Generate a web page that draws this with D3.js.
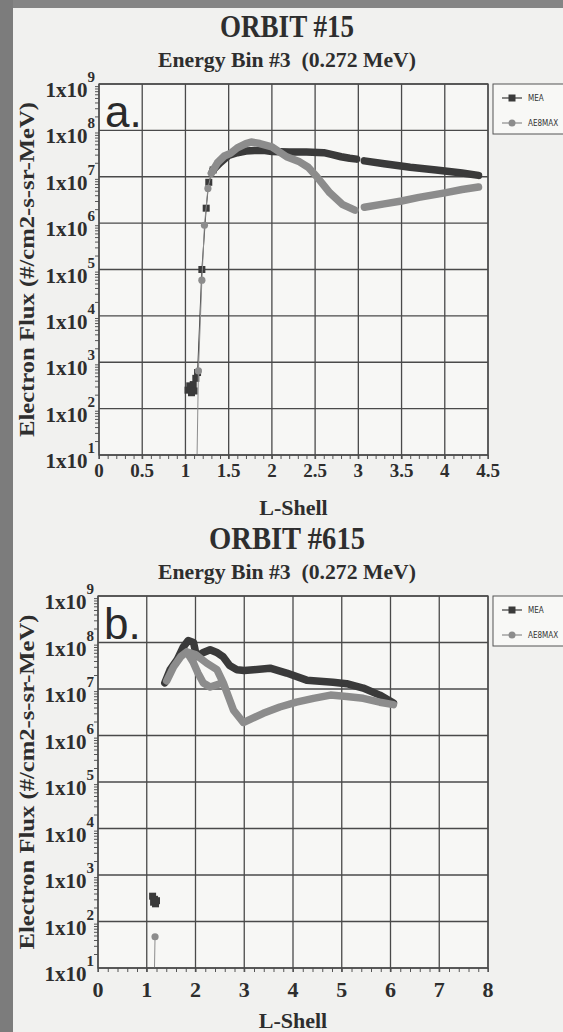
<!DOCTYPE html>
<head>
  <meta charset="utf-8">
  <title>MEA vs AE8MAX electron flux</title>
  <script src="https://d3js.org/d3.v7.min.js"></script>
  <style type="text/css">
  body { margin: 0; background: #f1f1ef; }
  .serif { font-family: "Liberation Serif", "DejaVu Serif", serif; font-weight: bold; fill: #2e2e2e; }
  .leg { font-family: "DejaVu Sans Condensed", "Liberation Sans", sans-serif; font-size: 8px; fill: #333; }
  </style>
</head>
<body>
  <script type="text/javascript">

    // Orbit #15, energy bin #3 (0.272 MeV): [L-shell, flux]
    var orbit15MeaLow = [[1.03, 250], [1.05, 310], [1.07, 220], [1.09, 330], [1.10, 240], [1.12, 450],
      [1.14, 600], [1.19, 1.0e5], [1.24, 2.1e6], [1.27, 7.6e6], [1.32, 1.4e7]];
    var orbit15MeaBand = [[1.32, 1.4e7], [1.40, 2.0e7], [1.50, 2.9e7], [1.60, 3.3e7], [1.70, 3.6e7],
      [1.80, 3.7e7], [1.90, 3.7e7], [2.00, 3.5e7], [2.20, 3.4e7], [2.40, 3.4e7], [2.60, 3.3e7],
      [2.70, 3.0e7], [2.80, 2.7e7], [2.90, 2.5e7], [2.98, 2.4e7], null,
      [3.07, 2.2e7], [3.30, 1.9e7], [3.60, 1.6e7], [3.90, 1.4e7], [4.20, 1.2e7], [4.39, 1.07e7]];
    var orbit15AeLow = [[1.13, 3], [1.15, 650], [1.19, 5.9e4], [1.22, 9.0e5], [1.26, 5.6e6], [1.30, 1.2e7]];
    var orbit15AeBand = [[1.30, 1.2e7], [1.37, 2.0e7], [1.45, 2.8e7], [1.52, 3.2e7], [1.60, 4.2e7],
      [1.70, 5.2e7], [1.76, 5.6e7], [1.86, 5.2e7], [2.00, 4.4e7], [2.17, 2.7e7], [2.32, 2.1e7],
      [2.42, 1.6e7], [2.52, 1.0e7], [2.67, 4.5e6], [2.82, 2.5e6], [2.96, 1.9e6], null,
      [3.07, 2.2e6], [3.30, 2.6e6], [3.50, 3.0e6], [3.70, 3.6e6], [4.00, 4.5e6], [4.20, 5.3e6], [4.39, 6.0e6]];

    // Orbit #615, energy bin #3 (0.272 MeV)
    var orbit615MeaLow = [[1.12, 350], [1.14, 260], [1.16, 300], [1.18, 240], [1.20, 280]];
    var orbit615MeaBand = [[1.37, 1.35e7], [1.48, 2.6e7], [1.62, 4.2e7], [1.75, 8.0e7], [1.85, 1.1e8],
      [1.96, 1.0e8], [2.02, 5.0e7], [2.15, 6.0e7], [2.30, 7.0e7], [2.45, 6.0e7], [2.57, 4.9e7],
      [2.70, 3.2e7], [2.85, 2.6e7], [3.00, 2.5e7], [3.19, 2.6e7], [3.53, 2.8e7], [3.87, 2.2e7],
      [4.28, 1.55e7], [4.82, 1.4e7], [5.10, 1.3e7], [5.44, 1.05e7], [5.78, 7.4e6], [6.06, 5.0e6]];
    var orbit615AeLow = [[1.15, 3], [1.17, 47]];
    var orbit615AeBand = [[1.41, 1.5e7], [1.55, 3.0e7], [1.70, 5.0e7], [1.82, 6.3e7], [2.00, 5.5e7],
      [2.23, 3.6e7], [2.44, 2.6e7], [2.57, 1.35e7], [2.78, 3.5e6], [2.98, 1.9e6], [3.39, 3.0e6],
      [3.73, 4.1e6], [4.07, 5.2e6], [4.42, 6.3e6], [4.77, 7.4e6], [5.10, 6.9e6], [5.44, 6.3e6],
      [5.78, 5.2e6], [6.06, 4.6e6], null,
      [1.82, 6.3e7], [1.95, 3.8e7], [2.05, 2.2e7], [2.16, 1.35e7], [2.30, 1.1e7], [2.50, 1.3e7]];

    // Axis ticks and labels
    var yDecades = [1, 2, 3, 4, 5, 6, 7, 8, 9];
    var seriesNames = ["MEA", "AE8MAX"];
    var yTitle = "Electron Flux (#/cm2-s-sr-MeV)";
    var xTitle = "L-Shell";
    var subTitle = "Energy Bin #3  (0.272 MeV)";

    var meaColor = "#3a3a3a", aeColor = "#8c8c8c", gridColor = "#4a4a4a";

    var svg = d3.select("body").append("svg")
      .attr("width", 563)
      .attr("height", 1032);

    // Scanned page frame
    svg.append("rect").attr("width", 563).attr("height", 1032).attr("fill", "#f1f1ef");
    svg.append("rect").attr("width", 563).attr("height", 8).attr("fill", "#858585");
    svg.append("rect").attr("width", 13).attr("height", 1032).attr("fill", "#7c7c7c");

    var panels = [
      {id: "a", title: "ORBIT #15", titleLen: 134, top: 84, bottom: 455, left: 99, right: 488,
       xMax: 4.5, xStep: 0.5, xMinor: 0.1, xFont: 19, xGap: 22, connect: true,
       mea: [orbit15MeaLow, orbit15MeaBand], ae: [orbit15AeLow, orbit15AeBand]},
      {id: "b", title: "ORBIT #615", titleLen: 156, top: 596, bottom: 968, left: 98, right: 488,
       xMax: 8, xStep: 1, xMinor: 0.2, xFont: 22, xGap: 29, connect: false,
       mea: [orbit615MeaLow, orbit615MeaBand], ae: [orbit615AeLow, orbit615AeBand]}
    ];

    panels.forEach(function(p) {
      var x = d3.scaleLinear().domain([0, p.xMax]).range([p.left, p.right]);
      var y = d3.scaleLog().domain([1e1, 1e9]).range([p.bottom, p.top]);
      var cx = 287;

      // Titles
      svg.append("text").attr("class", "serif")
        .attr("x", cx).attr("y", p.top - 47)
        .attr("text-anchor", "middle").attr("font-size", 32)
        .attr("textLength", p.titleLen).attr("lengthAdjust", "spacingAndGlyphs")
        .text(p.title);
      svg.append("text").attr("class", "serif")
        .attr("x", cx).attr("y", p.top - 17)
        .attr("text-anchor", "middle").attr("font-size", 22)
        .attr("textLength", 258).attr("lengthAdjust", "spacingAndGlyphs")
        .style("white-space", "pre")
        .text(subTitle);

      // Plot background
      svg.append("rect")
        .attr("x", p.left).attr("y", p.top)
        .attr("width", p.right - p.left).attr("height", p.bottom - p.top)
        .attr("fill", "#f7f7f5");

      var xMajors = d3.range(0, p.xMax + 1e-9, p.xStep);
      var xMinors = d3.range(0, p.xMax + 1e-9, p.xMinor);
      var yMajors = yDecades.map(function(d) { return Math.pow(10, d); });
      var yMinors = [];
      yDecades.slice(0, -1).forEach(function(d) {
        for (var k = 2; k < 10; k++) yMinors.push(k * Math.pow(10, d));
      });

      // Grid
      svg.append("g").selectAll("line").data(xMajors).enter().append("line")
        .attr("x1", function(d) { return x(d); }).attr("x2", function(d) { return x(d); })
        .attr("y1", p.top).attr("y2", p.bottom + 4)
        .attr("stroke", gridColor).attr("stroke-width", 1.3);
      svg.append("g").selectAll("line").data(yMajors).enter().append("line")
        .attr("x1", p.left).attr("x2", p.right)
        .attr("y1", function(d) { return y(d); }).attr("y2", function(d) { return y(d); })
        .attr("stroke", gridColor).attr("stroke-width", 1.3);

      // Minor ticks through d3 axes
      svg.append("g")
        .attr("transform", "translate(" + p.left + ",0)")
        .call(d3.axisLeft(y).tickValues(yMinors).tickSize(4).tickFormat(""))
        .call(function(g) { g.select(".domain").remove(); g.selectAll("line").attr("stroke", "#555"); });
      svg.append("g")
        .attr("transform", "translate(0," + p.bottom + ")")
        .call(d3.axisBottom(x).tickValues(xMinors).tickSize(4).tickFormat(""))
        .call(function(g) { g.select(".domain").remove(); g.selectAll("line").attr("stroke", "#555"); });

      // Y tick labels 1x10^n
      var yl = svg.append("g").selectAll("text").data(yDecades).enter().append("text")
        .attr("class", "serif")
        .attr("x", p.left - 4)
        .attr("y", function(d) { return y(Math.pow(10, d)) + 13; })
        .attr("text-anchor", "end")
        .attr("font-size", 21);
      yl.append("tspan").text("1x10");
      yl.append("tspan").attr("dy", -15).attr("font-size", 15).text(function(d) { return d; });

      // X tick labels
      svg.append("g").selectAll("text").data(xMajors).enter().append("text")
        .attr("class", "serif")
        .attr("x", function(d) { return x(d); })
        .attr("y", p.bottom + p.xGap)
        .attr("text-anchor", "middle")
        .attr("font-size", p.xFont)
        .text(function(d) { return d3.format("~g")(d); });

      // Axis titles
      svg.append("text").attr("class", "serif")
        .attr("x", x(p.xMax / 2)).attr("y", p.bottom + 60)
        .attr("text-anchor", "middle").attr("font-size", 22)
        .text(xTitle);
      svg.append("text").attr("class", "serif")
        .attr("transform", "translate(34," + ((p.top + p.bottom) / 2) + ") rotate(-90)")
        .attr("text-anchor", "middle").attr("font-size", 20)
        .attr("textLength", 335).attr("lengthAdjust", "spacingAndGlyphs")
        .text(yTitle);

      // Series
      var clipId = "clip-" + p.id;
      svg.append("clipPath").attr("id", clipId).append("rect")
        .attr("x", p.left).attr("y", p.top)
        .attr("width", p.right - p.left).attr("height", p.bottom - p.top);
      var plot = svg.append("g").attr("clip-path", "url(#" + clipId + ")");

      var line = d3.line()
        .defined(function(d) { return d !== null; })
        .x(function(d) { return x(d[0]); })
        .y(function(d) { return y(d[1]); });

      function drawSeries(parts, color, shape) {
        var low = parts[0], band = parts[1];
        // thin connecting line through the sparse points
        plot.append("path")
          .attr("d", line(p.connect ? low.concat([band[0]]) : low))
          .attr("fill", "none").attr("stroke", color).attr("stroke-width", 1);
        // dense run of markers drawn as a thick band
        plot.append("path")
          .attr("d", line(band))
          .attr("fill", "none").attr("stroke", color).attr("stroke-width", 7.5)
          .attr("stroke-linejoin", "round").attr("stroke-linecap", "round");
        var pts = low.filter(function(d) { return d[1] >= 10; });
        if (shape === "square") {
          plot.selectAll(null).data(pts).enter().append("rect")
            .attr("x", function(d) { return x(d[0]) - 3.5; })
            .attr("y", function(d) { return y(d[1]) - 3.5; })
            .attr("width", 7).attr("height", 7).attr("fill", color);
        } else {
          plot.selectAll(null).data(pts).enter().append("circle")
            .attr("cx", function(d) { return x(d[0]); })
            .attr("cy", function(d) { return y(d[1]); })
            .attr("r", 3.6).attr("fill", color);
        }
      }
      drawSeries(p.mea, meaColor, "square");
      drawSeries(p.ae, aeColor, "circle");

      // Frame
      svg.append("rect")
        .attr("x", p.left).attr("y", p.top)
        .attr("width", p.right - p.left).attr("height", p.bottom - p.top)
        .attr("fill", "none").attr("stroke", gridColor).attr("stroke-width", 1.3);

      // Panel letter
      svg.append("text")
        .attr("x", p.left + 6).attr("y", p.top + 43)
        .attr("font-family", "Liberation Sans, Arial, sans-serif")
        .attr("font-size", 44).attr("fill", "#2a2a2a")
        .text(p.id + ".");

      // Legend
      var lg = svg.append("g").attr("transform", "translate(493," + p.top + ")");
      lg.append("rect").attr("x", 0).attr("y", 0).attr("width", 90).attr("height", 50)
        .attr("fill", "#f8f8f6").attr("stroke", "#555").attr("stroke-width", 1);
      seriesNames.forEach(function(name, i) {
        var ly = 14 + i * 25;
        var c = i === 0 ? meaColor : aeColor;
        lg.append("line").attr("x1", 9).attr("x2", 29).attr("y1", ly).attr("y2", ly)
          .attr("stroke", c).attr("stroke-width", 1.2);
        if (i === 0) {
          lg.append("rect").attr("x", 15.5).attr("y", ly - 3.5).attr("width", 7).attr("height", 7).attr("fill", c);
        } else {
          lg.append("circle").attr("cx", 19).attr("cy", ly).attr("r", 3.5).attr("fill", c);
        }
        lg.append("text").attr("class", "leg").attr("x", 35).attr("y", ly + 3).text(name);
      });
    });

  </script>
</body>
</html>
